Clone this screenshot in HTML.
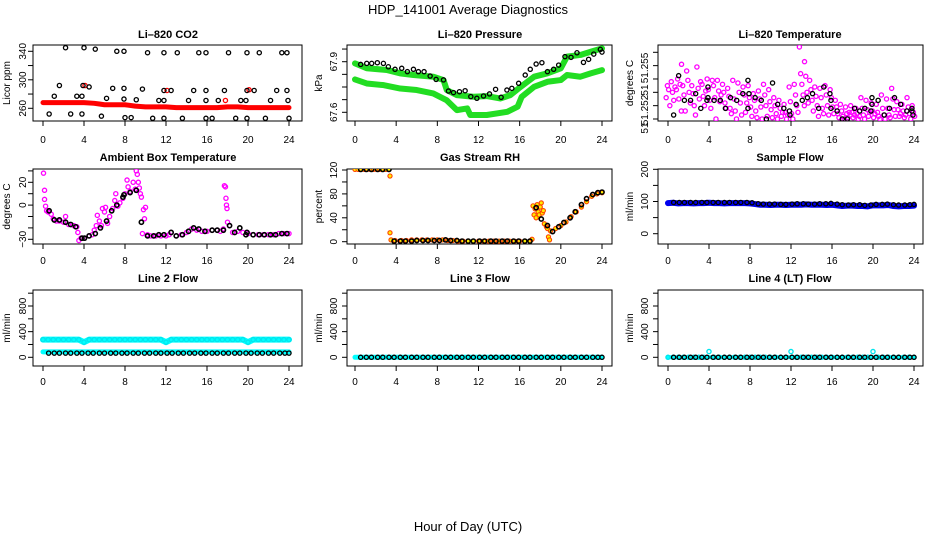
<!DOCTYPE html>
<html><head><meta charset="utf-8"><style>
html,body{margin:0;padding:0;background:#fff}
svg{display:block}
text{font-family:"Liberation Sans",sans-serif;fill:#000}
</style></head><body>
<svg id="chart" width="936" height="540" viewBox="0 0 936 540" xmlns="http://www.w3.org/2000/svg">
<text x="468" y="14" font-size="13" text-anchor="middle">HDP_141001  Average Diagnostics</text>
<text x="468" y="531" font-size="13" text-anchor="middle">Hour of Day (UTC)</text>
</svg>
<script>
// ---------- shared x categories ----------
const blackHours=[0.55,1.1,1.6,2.2,2.7,3.3,3.8,4.4,4.9,5.5,6.0,6.6,7.1,7.7,8.2,8.8,9.3,9.9,10.4,11.0,11.5,12.1,12.6,13.2,13.7,14.3,14.8,15.4,15.9,16.5,17.0,17.6,18.1,18.7,19.2,19.8,20.3,20.9,21.4,22.0,22.5,23.1,23.6,24.0];
const halfHours=[0,0.5,1,1.5,2,2.5,3,3.5,4,4.5,5,5.5,6,6.5,7,7.5,8,8.5,9,9.5,10,10.5,11,11.5,12,12.5,13,13.5,14,14.5,15,15.5,16,16.5,17,17.5,18,18.5,19,19.5,20,20.5,21,21.5,22,22.5,23,23.5,24];
const xTickLabels=["0","4","8","12","16","20","24"];
const xTicks=[0,4,8,12,16,20,24];

// ---------- CO2 ----------
const co2BlackHours=[0.6,1.1,1.6,2.2,2.7,3.3,3.8,3.8,3.9,4.0,4.5,5.1,5.7,6.2,6.8,7.2,7.9,7.9,7.9,8.0,8.6,9.1,9.7,10.2,10.7,11.3,11.8,11.8,11.8,11.8,12.5,13.1,13.6,14.2,14.7,15.2,15.9,15.9,15.9,15.9,16.5,17.1,17.7,18.1,18.8,19.3,19.8,19.9,19.9,19.9,20.6,21.1,21.7,22.2,22.8,23.3,23.8,23.8,23.9,24.0];
const co2BlackVals=[252,277,292,345,252,277,277,252,292,345,290,343,249,274,288,340,340,288,273,247,247,272,287,338,246,271,271,338,285,246,285,338,246,271,285,338,338,285,271,246,246,271,285,338,246,271,271,338,285,246,285,338,246,271,285,338,338,285,271,246];
const co2RedHours=[0,1,2,3,4,5,5.5,6,7,8,9,10,11,12,13,14,15,16,17,18,19,20,21,22,23,24];
const co2RedVals=[268,268,268,268,268,267,266,265,265,265,263,262,262,262,261,261,261,261,261,262,262,261,261,261,261,261];
const co2SpikeHours=[4.1,12.1,17.8,20.1];
const co2SpikeVals=[292,285,271,286];

// ---------- Pressure ----------
const presUpperHours=[0,1.14,3.08,4.38,5.68,7.62,8.6,8.92,9.89,11.5,12.8,14.1,15.1,16.1,17.4,18.7,20.0,20.6,21.9,22.9,24.0];
const presUpperVals=[67.890,67.861,67.851,67.831,67.821,67.811,67.791,67.732,67.702,67.692,67.696,67.682,67.702,67.751,67.811,67.831,67.861,67.930,67.940,67.959,67.979];
const presLowerHours=[0,1.14,2.8,4.4,6,7.6,8.9,9.9,10.9,11.2,12.8,14.8,15.8,16.2,17.4,18.7,20,20.6,21.9,22.9,24];
const presLowerVals=[67.795,67.771,67.761,67.741,67.732,67.712,67.672,67.613,67.623,67.584,67.584,67.603,67.633,67.692,67.751,67.781,67.791,67.821,67.811,67.831,67.850];
const presBlackHours=[0.55,1.14,1.62,2.17,2.76,3.24,3.89,4.54,5.09,5.68,6.16,6.71,7.30,7.88,8.60,9.08,9.57,10.15,10.7,11.25,11.84,12.49,13.07,13.66,14.2,14.76,15.24,15.9,16.54,17.03,17.6,18.16,18.7,19.3,19.79,20.4,20.99,21.57,22.2,22.7,23.2,23.84,24];
const presBlackVals=[67.884,67.890,67.890,67.894,67.890,67.870,67.855,67.861,67.841,67.855,67.841,67.841,67.815,67.795,67.792,67.726,67.717,67.722,67.728,67.693,67.683,67.697,67.709,67.736,67.689,67.732,67.742,67.772,67.821,67.855,67.886,67.894,67.841,67.855,67.880,67.930,67.926,67.953,67.896,67.914,67.945,67.973,67.957];

// ---------- Temperature (thousandths above 51.25) ----------
const tempMag=[[2.6,3.5,3.2,2.0],[3.8,3.0,2.4,3.4],[3.2,4.0,2.5,3.6,1.6],[5.1,3.5,2.8,1.6],[4.6,3.9,3.0,2.2],[3.5,2.9,2.0,1.3],[4.9,3.3,2.5,3.8],[3.6,2.7,2.0,3.1],[4.0,3.2,2.4,1.8],[3.9,3.5,2.6,1.0],[3.9,3.1,2.3,2.8],[3.6,3.0,2.2,1.8],[3.3,2.7,1.8,1.4],[3.9,2.5,1.6,1.0],[3.7,3.0,2.2,1.3],[3.4,2.8,1.5,2.2],[3.5,2.6,1.9,1.2],[2.9,2.4,1.6,1.1],[3.1,2.5,1.9,1.0],[3.6,2.8,2.0,1.2],[3.2,2.3,1.7,1.1],[2.6,2.0,1.4,1.0],[2.4,1.8,1.2,1.5],[2.1,1.5,1.0,1.3],[3.4,2.3,1.4,1.0],[3.6,2.8,2.0,1.5],[6.4,4.4,3.6,2.8,2.0],[5.3,4.2,3.0,2.2],[3.9,3.2,2.4,1.6],[3.4,2.7,2.0,1.2],[3.3,2.6,1.8,1.4],[3.5,2.8,2.0,1.3],[3.2,2.6,1.9,1.4],[2.4,1.9,1.4,1.1],[2.1,1.6,1.2,1.0],[1.9,1.4,1.1,1.5],[2.0,1.5,1.1,1.3],[1.8,1.4,1.0,1.2],[2.6,1.8,1.3,1.0],[2.4,1.7,1.2,1.5],[2.2,1.6,1.1,1.4],[2.1,1.5,1.2,1.0],[2.8,1.8,1.3,1.0],[2.5,1.8,1.3,1.1],[3.3,2.5,1.7,1.2],[2.3,1.7,1.2,1.4],[2.1,1.6,1.1,1.3],[2.6,1.9,1.4,1.0],[2.0,1.5,1.2]];
const tempBlackHours=[0.55,1.04,1.6,2.2,2.7,3.2,3.8,3.9,3.9,4.5,5.1,5.6,6.1,6.7,7.3,7.8,7.8,7.9,8.5,9.1,9.6,10.2,10.7,11.3,11.85,11.9,12.5,13.1,13.6,14.1,14.7,15.2,15.8,15.9,15.9,16.5,17.0,17.5,18.2,18.7,19.2,19.8,19.9,19.9,20.5,21.1,21.6,22.1,22.7,23.3,23.8,23.8,23.9];
const tempBlackVals=[1.3,4.25,2.4,2.4,2.9,1.8,2.4,3.4,2.6,2.4,2.4,1.8,2.6,2.4,2.9,1.8,3.9,2.9,2.6,2.4,1.0,3.7,2.1,1.8,1.6,1.3,2.1,2.4,2.6,2.9,1.8,3.4,2.9,2.4,1.8,1.6,1.0,1.0,1.8,1.6,1.8,1.6,2.6,2.1,2.4,1.3,1.8,2.6,2.1,1.6,1.6,1.8,1.3];

// ---------- Ambient box temperature ----------
const ambMagHours=[0.05,0.15,0.15,0.25,0.35,0.5,0.8,1.0,1.3,1.6,2.0,2.2,2.5,3.0,3.3,3.4,3.5,3.7,4.0,4.5,4.8,5.0,5.2,5.3,5.5,5.7,5.8,6.0,6.1,6.3,6.5,6.8,7.0,7.1,7.3,7.5,7.8,8.0,8.2,8.3,8.5,8.8,9.0,9.1,9.2,9.3,9.4,9.5,9.6,9.8,9.9,10.0,9.7,10.2,10.5,11,11.5,12,12.3,12.5,13,13.5,14,14.5,15,15.5,16,16.5,17,17.3,17.6,17.7,17.8,17.85,17.9,17.95,18,18.2,18.5,19,19.5,20,20.5,21,21.5,22,22.5,23,23.5,24];
const ambMagVals=[28,13,5,-1,-5,-6,-8,-12,-14,-14,-15,-10,-17,-18,-19,-24,-31,-29,-29,-27,-26,-22,-18,-9,-14,-18,-3,-6,-2,-16,-10,-3,4,10,-1,2,6,10,22,16,12,20,14,30,27,20,15,10,7,-4,-12,-2,-25,-26,-27,-27,-27,-27,-26,-24,-27,-26,-24,-21,-22,-23,-23,-22,-22,-23,-21,17,16,6,0,-3,-15,-18,-24,-23,-24,-25,-26,-26,-26,-26,-26,-25,-25,-25];
const ambBlackHours=[0.6,1.1,1.6,2.2,2.7,3.2,3.8,4.05,4.5,5.1,5.6,6.2,6.7,7.2,7.8,7.9,8.5,9.1,9.6,10.2,10.8,11.3,11.8,12.5,13.0,13.6,14.2,14.7,15.2,15.8,16.5,17.0,17.6,18.2,18.7,19.2,19.8,19.9,20.5,21.1,21.6,22.2,22.7,23.3,23.8];
const ambBlackVals=[-5,-13,-13,-15,-17,-19,-29,-29,-27,-25,-20,-14,-5,0,7,9,11,13,-15,-27,-27,-26,-26,-24,-27,-26,-23,-20,-21,-23,-22,-22,-22,-18,-24,-20,-26,-24,-26,-26,-26,-26,-26,-25,-25];

// ---------- Gas stream RH ----------
const rhYelHours=[0,0.3,0.6,0.9,1.2,1.5,1.8,2.1,2.4,2.7,3.0,3.3,3.4,3.4,3.5,3.9,4.5,5,5.5,6,6.5,7,7.5,8,8.5,9,9.5,10,10.5,11,11.5,12,12.5,13,13.5,14,14.5,15,15.5,16,16.5,17,17.2,17.3,17.4,17.5,17.6,17.7,17.8,17.9,18.0,18.1,18.2,18.3,18.4,18.6,18.7,18.8,18.9,19,19.5,20,20.5,21,21.5,22,22.5,23,23.5,24];
const rhYelVals=[121,121,121,121,121,121,121,121,121,121,121,121,110,15,3,2,2,2,3,3,3,3,3,3,3,2,2,1,1,1,1,1,1,1,1,1,1,1,1,1,1,1,4,60,45,55,40,62,50,45,58,65,48,52,30,25,22,8,3,18,22,27,33,42,50,58,67,76,80,82];
const rhBlackVals=[121,121,121,121,121,121,1,1,1,1,2,2,2,2,2,3,2,2,1,1,1,1,1,1,1,1,1,1,1,1,1,57,38,27,17,25,32,40,50,62,72,79,82,83];

// ---------- Flows ----------
const sampleBlueVals=[95,96,94,95,95,94,95,95,96,95,95,94,95,95,95,95,94,92,90,90,89,90,90,89,90,90,90,91,90,90,90,89,90,88,86,87,87,86,86,85,88,88,88,89,86,85,86,86,87];
const sampleBlackVals=[97,97,97,97,97,97,97,97,97,97,97,97,97,97,96,93,92,92,92,91,91,92,93,93,92,92,93,93,94,92,90,89,90,90,88,89,91,91,92,90,89,89,90,91];
const line2CyanTop=[275,275,275,275,275,275,275,275,235,275,275,275,275,275,275,275,275,275,275,275,275,275,275,275,235,275,275,275,275,275,275,275,275,275,275,275,275,275,275,275,235,275,275,275,275,275,275,275,275];
const line2CyanLow=[85,85,85,85,85,85,85,85,85,85,85,85,85,85,85,85,85,85,85,85,85,85,85,85,85,85,85,85,85,85,85,85,85,85,85,85,85,85,85,85,85,85,85,85,85,85,85,85,85];
const line2BlackVals=[65,65,65,65,65,65,65,65,65,65,65,65,65,65,65,65,65,65,65,65,65,65,65,65,65,65,65,65,65,65,65,65,65,65,65,65,65,65,65,65,65,65,65,65];
const line3CyanVals=[0,0,0,0,0,0,0,0,0,0,0,0,0,0,0,0,0,0,0,0,0,0,0,0,0,0,0,0,0,0,0,0,0,0,0,0,0,0,0,0,0,0,0,0,0,0,0,0,0];
const line3BlackVals=[0,0,0,0,0,0,0,0,0,0,0,0,0,0,0,0,0,0,0,0,0,0,0,0,0,0,0,0,0,0,0,0,0,0,0,0,0,0,0,0,0,0,0,0];
const line4CyanVals=[0,0,0,0,0,0,0,0,90,0,0,0,0,0,0,0,0,0,0,0,0,0,0,0,90,0,0,0,0,0,0,0,0,0,0,0,0,0,0,0,90,0,0,0,0,0,0,0,0];
const line4BlackVals=[0,0,0,0,0,0,0,0,0,0,0,0,0,0,0,0,0,0,0,0,0,0,0,0,0,0,0,0,0,0,0,0,0,0,0,0,0,0,0,0,0,0,0,0];

const NS='http://www.w3.org/2000/svg';
const svg=document.getElementById('chart');
function mk(tag,attrs,parent){const e=document.createElementNS(NS,tag);for(const k in attrs)e.setAttribute(k,attrs[k]);(parent||svg).appendChild(e);return e;}

const cols=[{bx0:33,bx1:302,hx0:43,hx1:289,ylab:10,ytick:23,tc:168},{bx0:347,bx1:612,hx0:355,hx1:602,ylab:322,ytick:334,tc:480},{bx0:658,bx1:923,hx0:668,hx1:914,ylab:633,ytick:645,tc:790}];
const rows=[{by0:45,by1:121,tl:140,tt:38},{by0:169,by1:244,tl:261,tt:161},{by0:290,by1:366,tl:382,tt:282}];
const R0=2.1, SW=1.3;

function panel(name,c,r,title,ylabel,v1,p1,v2,p2,yt,ytl){
  const C=cols[c],R=rows[r];
  const g=mk('g',{});
  
  
  const sx=h=>C.hx0+(C.hx1-C.hx0)*h/24;
  const sy=v=>p1+(v-v1)*(p2-p1)/(v2-v1);
  const t=mk('text',{x:C.tc,y:R.tt,'font-size':11,'font-weight':'bold','text-anchor':'middle'},g);t.textContent=title;
  
  
  const yl=mk('text',{x:C.ylab,y:(R.by0+R.by1)/2,'font-size':10,'text-anchor':'middle',transform:`rotate(-90 ${C.ylab} ${(R.by0+R.by1)/2})`},g);yl.textContent=ylabel;
  
  
  const box=mk('rect',{x:C.bx0,y:R.by0,width:C.bx1-C.bx0,height:R.by1-R.by0,fill:'none',stroke:'#000','stroke-width':1},g);
  
  
  const xa=mk('g',{},g);
  
  
  mk('line',{x1:sx(0),x2:sx(24),y1:R.by1,y2:R.by1,stroke:'#000'},xa);
  xTicks.forEach((h,i)=>{mk('line',{x1:sx(h),x2:sx(h),y1:R.by1,y2:R.by1+5,stroke:'#000'},xa);
    const tx=mk('text',{x:sx(h),y:R.tl+3,'font-size':10,'text-anchor':'middle'},xa);tx.textContent=xTickLabels[i];});
  const ya=mk('g',{},g);
  
  
  yt.forEach((v,i)=>{const y=sy(v);mk('line',{x1:C.bx0-5,x2:C.bx0,y1:y,y2:y,stroke:'#000'},ya);
    if(ytl&&ytl[i]){const tx=mk('text',{x:C.ytick+3,y:y,'font-size':10,'text-anchor':'middle',transform:`rotate(-90 ${C.ytick+3} ${y})`},ya);tx.textContent=ytl[i];}});
  const clip='clip'+name;
  const cp=mk('clipPath',{id:clip},g);mk('rect',{x:C.bx0,y:R.by0,width:C.bx1-C.bx0,height:R.by1-R.by0},cp);
  const m=mk('g',{'clip-path':`url(#${clip})`},g);
  return {g:m,sx,sy,ya};
}
function pts(P,name,hs,vs,color,r,sw,fill){
  const g=mk('g',{},P.g);
  
  
  hs.forEach((h,i)=>{const c=mk('circle',{cx:P.sx(h),cy:P.sy(vs[i]),r:r,fill:fill||'none',stroke:color,'stroke-width':sw},g);
    
    });
}
function band(P,name,hs,vs,color,w){
  const p=mk('polyline',{points:hs.map((h,i)=>P.sx(h)+','+P.sy(vs[i])).join(' '),fill:'none',stroke:color,'stroke-width':w,'stroke-linejoin':'round','stroke-linecap':'round'},P.g);
  
  
}

// Panel 1 CO2
let P=panel('co2-panel',0,0,'Li\u2013820 CO2','Licor ppm',340,51.3,260,108.3,[260,280,300,320,340],['260','','300','','340']);
band(P,'co2-red-band',co2RedHours,co2RedVals,'#ff0000',5);
pts(P,'co2-red-spikes',co2SpikeHours,co2SpikeVals,'#ff0000',R0,SW);
pts(P,'co2-black-points',co2BlackHours,co2BlackVals,'#000',R0,SW);

// Panel 2 Pressure
P=panel('pressure-panel',1,0,'Li\u2013820 Pressure','kPa',67.9,61.7,67.6,112.3,[67.6,67.675,67.75,67.825,67.9,67.975],['67.6','','','','67.9','']);
band(P,'pressure-green-upper',presUpperHours,presUpperVals,'#22dd22',6);
band(P,'pressure-green-lower',presLowerHours,presLowerVals,'#22dd22',6);
pts(P,'pressure-black-points',presBlackHours,presBlackVals,'#000',R0,SW);

// Panel 3 Temperature
P=panel('temperature-panel',2,0,'Li\u2013820 Temperature','degrees C',1,119,6,52.3,[1,2,3,4,5,6],null);
[['51.255',68],['51',90],['51.252',110],['51',128]].forEach(a=>{const tx=mk('text',{x:cols[2].ytick+3,y:a[1],'font-size':10,'text-anchor':'middle',transform:`rotate(-90 ${cols[2].ytick+3} ${a[1]})`},P.ya);tx.textContent=a[0];});
{const hs=[],vs=[];tempMag.forEach((grp,i)=>grp.forEach((v,j)=>{hs.push(halfHours[i]+(j-1.5)*0.12);vs.push(v);}));
pts(P,'temperature-magenta-points',hs,vs,'#ff00ff',R0,SW);}
pts(P,'temperature-black-points',tempBlackHours,tempBlackVals,'#000',R0,SW);

// Panel 4 Ambient
P=panel('ambient-temp-panel',0,1,'Ambient Box Temperature','degrees C',20,182.3,-30,239.3,[-30,-20,-10,0,10,20,30],['\u221230','','','0','','20','']);
pts(P,'ambient-magenta-points',ambMagHours,ambMagVals,'#ff00ff',R0,SW);
pts(P,'ambient-black-points',ambBlackHours,ambBlackVals,'#000',R0,1.6);

// Panel 5 RH
P=panel('gas-rh-panel',1,1,'Gas Stream RH','percent',0,241.7,120,170,[0,20,40,60,80,100,120],['0','','40','','80','','120']);
pts(P,'rh-yellow-points',rhYelHours,rhYelVals,'#ff4400',R0,1.1,'#ffee00');
pts(P,'rh-black-points',blackHours,rhBlackVals,'#000',R0,1.6);

// Panel 6 Sample flow
P=panel('sample-flow-panel',2,1,'Sample Flow','ml/min',0,233.7,200,169.3,[0,50,100,150,200],['0','','100','','200']);
band(P,'sample-blue-band',halfHours,sampleBlueVals,'#0000ee',6);
pts(P,'sample-blue-points',halfHours,sampleBlueVals,'#0000ee',R0,SW,'#0000ee');
pts(P,'sample-black-points',blackHours,sampleBlackVals,'#000',R0,SW);

// Panel 7 Line2
P=panel('line2-flow-panel',0,2,'Line 2 Flow','ml/min',0,357.3,800,306,[0,200,400,600,800,1000],['0','','400','','800','']);
band(P,'line2-cyan-top',halfHours,line2CyanTop,'#00ffff',6);
pts(P,'line2-cyan-top-points',halfHours,line2CyanTop,'#00e5ee',R0,SW,'#00ffff');
band(P,'line2-cyan-low',halfHours,line2CyanLow,'#00ffff',5);
pts(P,'line2-black-points',blackHours,line2BlackVals,'#000',R0,SW);

// Panel 8 Line3
P=panel('line3-flow-panel',1,2,'Line 3 Flow','ml/min',0,357.3,800,306,[0,200,400,600,800,1000],['0','','400','','800','']);
band(P,'line3-cyan-band',halfHours,line3CyanVals,'#00ffff',5);
pts(P,'line3-black-points',blackHours,line3BlackVals,'#000',R0,SW);

// Panel 9 Line4
P=panel('line4-flow-panel',2,2,'Line 4 (LT) Flow','ml/min',0,357.3,800,306,[0,200,400,600,800,1000],['0','','400','','800','']);
band(P,'line4-cyan-band',halfHours,line3CyanVals,'#00ffff',4);
pts(P,'line4-cyan-points',halfHours,line4CyanVals,'#00e5ee',R0,SW);
pts(P,'line4-black-points',blackHours,line4BlackVals,'#000',R0,SW);
</script>
</body></html>
